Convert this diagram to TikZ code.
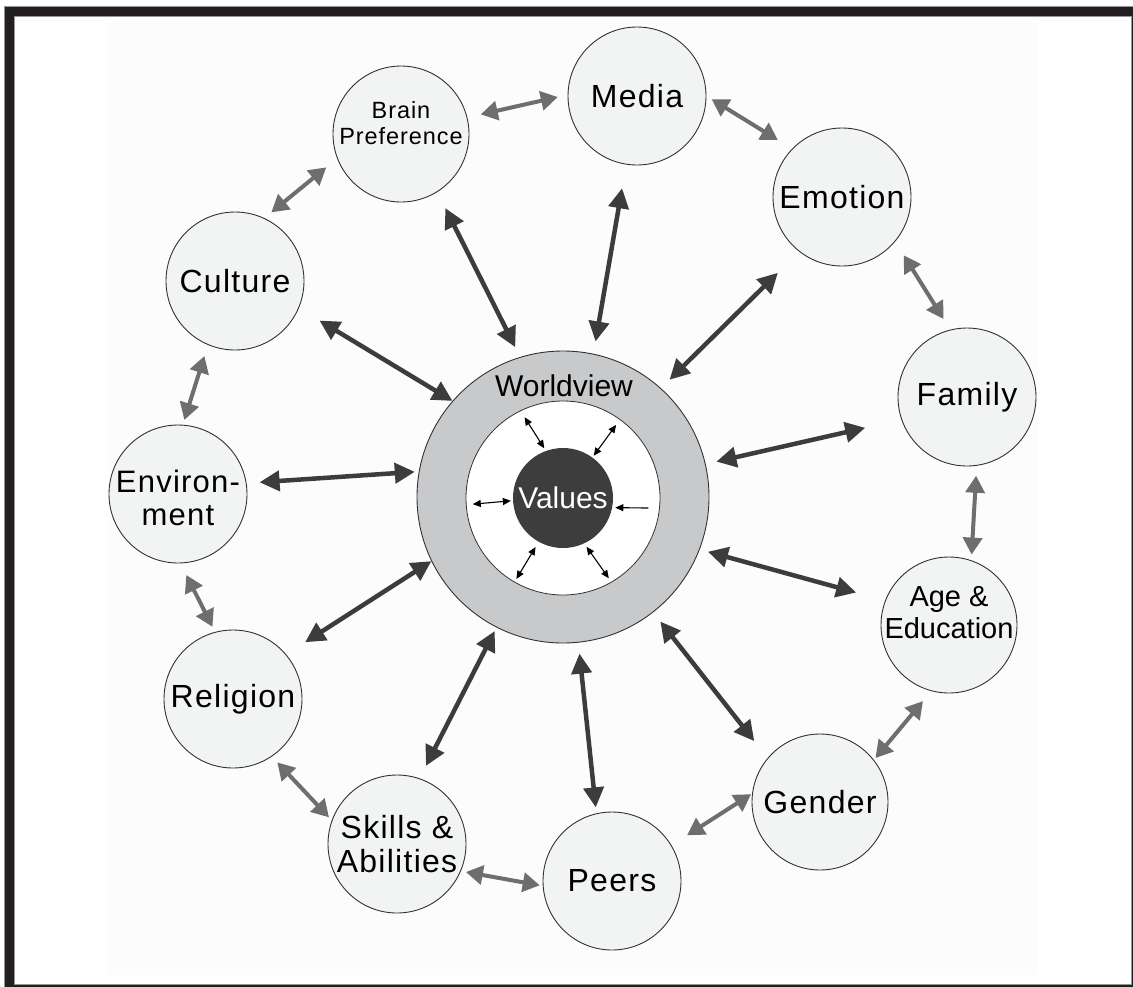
\documentclass[tikz,border=0pt]{standalone}
\usepackage{fontspec}
\setmainfont{Liberation Sans}
\newfontfamily\labelfont[LetterSpace=4]{Liberation Sans}
\usetikzlibrary{arrows.meta}

\definecolor{frameblack}{RGB}{35,31,32}
\definecolor{framegray}{RGB}{150,150,150}
\definecolor{panelgray}{RGB}{252,252,252}
\definecolor{bubble}{RGB}{242,243,243}
\definecolor{ring}{RGB}{200,201,203}
\definecolor{core}{RGB}{61,61,61}
\definecolor{spoke}{RGB}{60,60,60}
\definecolor{link}{RGB}{109,110,112}
\definecolor{outline}{RGB}{50,50,50}

\begin{document}
\begin{tikzpicture}[x=1pt,y=1pt,
  factor/.style={circle, draw=outline, line width=0.9pt, fill=bubble,
    minimum size=138pt, inner sep=0pt},
  lab/.style={align=center, inner sep=0pt, text=black,
    font=\labelfont\fontsize{32}{34}\selectfont},
  spokearrow/.style={draw=spoke, line width=4.5pt,
    {Triangle[length=20pt,width=20pt]}-{Triangle[length=20pt,width=20pt]}},
  linkarrow/.style={draw=link, line width=4pt,
    {Triangle[length=17pt,width=19pt]}-{Triangle[length=17pt,width=19pt]}},
  smallarrow/.style={draw=black, line width=1.1pt,
    {Triangle[length=8pt,width=7pt]}-{Triangle[length=8pt,width=7pt]}},
  smallsingle/.style={draw=black, line width=1.1pt,
    -{Triangle[length=8pt,width=7pt]}}
]
\useasboundingbox (0,0) rectangle (1133,-986);

% page, panel and frame
\fill[white] (0,0) rectangle (1133,-986);
\fill[panelgray] (108,-23) rectangle (1037,-975);
\draw[framegray, line width=10.5pt] (9.5,-11.25) rectangle (1135.75,-988.75);
\draw[frameblack, line width=8.5pt] (9.5,-11.25) rectangle (1135.75,-988.75);

% central rings
\node[circle, draw=outline, line width=0.9pt, fill=ring, minimum size=292pt, inner sep=0pt] (W) at (563,-497) {};
\node[circle, draw=outline, line width=0.8pt, fill=white, minimum size=194pt, inner sep=0pt] (I) at (563,-498) {};
\node[circle, fill=core, minimum size=100pt, inner sep=0pt] (V) at (563,-498) {};
\node[lab, font=\fontsize{30}{32}\selectfont] (Wtext) at (564,-386) {Worldview};
\node[lab, font=\fontsize{30}{32}\selectfont, text=white] (Vtext) at (563,-498) {Values};

% surrounding influences
\node[factor] (M) at (637,-96) {};
\node[factor, minimum size=136pt] (B) at (401,-134) {};
\node[factor] (E) at (842,-197) {};
\node[factor] (C) at (235,-281) {};
\node[factor] (F) at (967,-397) {};
\node[factor] (N) at (178,-494) {};
\node[factor, minimum size=136pt] (A) at (949,-625) {};
\node[factor] (R) at (233,-699) {};
\node[factor, minimum size=136pt] (G) at (820,-802) {};
\node[factor] (S) at (397,-844) {};
\node[factor] (P) at (612,-881) {};

\node[lab] (Mt) at (M) {Media};
\node[lab, font=\labelfont\fontsize{23.5}{26}\selectfont] (Bt) at ([yshift=11pt]B.center) {Brain\\Preference};
\node[lab] (Et) at (E) {Emotion};
\node[lab] (Ct) at (C) {Culture};
\node[lab] (Ft) at (F) {Family};
\node[lab, font=\labelfont\fontsize{31}{33}\selectfont] (Nt) at ([yshift=-4pt]N.center) {Environ-\\ment};
\node[lab, font=\fontsize{29}{32}\selectfont] (At) at ([yshift=12pt]A.center) {Age \&\\Education};
\node[lab] (Rt) at (R) {Religion};
\node[lab] (Gt) at (G) {Gender};
\node[lab] (St) at (S) {Skills \&\\Abilities};
\node[lab] (Pt) at (P) {Peers};

% spokes between each influence and the worldview
\draw[spokearrow, shorten <=24pt] (C.-23.5) -- (W.139.4);
\draw[spokearrow, shorten <=18pt, shorten >=11pt] (B.-58.3) -- (W.107.4);
\draw[spokearrow, shorten <=24pt, shorten >=12.5pt] (M.-99.9) -- (W.78);
\draw[spokearrow, shorten <=30pt, shorten >=12pt] (E.-128) -- (W.48.9);
\draw[spokearrow, shorten <=37pt, shorten >=11pt] (F.199.3) -- (W.13.6);
\draw[spokearrow, shorten <=13pt, shorten >=4pt] (N.9.8) -- (W.170.8);
\draw[spokearrow, shorten <=30pt, shorten >=8.5pt] (A.159.2) -- (W.-21.3);
\draw[spokearrow, shorten <=22.5pt] (R.40.1) -- (W.206);
\draw[spokearrow, shorten <=14pt, shorten >=4pt] (S.71.8) -- (W.-117.8);
\draw[spokearrow, shorten <=6pt, shorten >=11pt] (P.103.9) -- (W.-84.1);
\draw[spokearrow, shorten <=21.5pt, shorten >=11.6pt] (G.140.4) -- (W.-52.5);

% links between neighbouring influences
\draw[linkarrow, shorten <=13.7pt, shorten >=10pt] (B.14.9) -- (M.179.3);
\draw[linkarrow, shorten <=6pt, shorten >=16.6pt] (M.0.8) -- (E.136.4);
\draw[linkarrow, shorten <=16pt, shorten >=12.5pt] (E.-40.2) -- (F.104.2);
\draw[linkarrow, shorten <=10pt, shorten >=5.7pt] (F.-82) -- (A.71.8);
\draw[linkarrow, shorten <=13pt, shorten >=2.4pt] (A.-105.8) -- (G.38.7);
\draw[linkarrow, shorten <=1pt, shorten >=18.5pt] (G.173.9) -- (P.31);
\draw[linkarrow, shorten <=3pt, shorten >=5pt] (P.184) -- (S.-23.1);
\draw[linkarrow, shorten <=4pt, shorten >=8pt] (S.160.8) -- (R.-56.1);
\draw[linkarrow, shorten <=5.7pt, shorten >=13pt] (R.105.5) -- (N.-88.6);
\draw[linkarrow, shorten <=5pt, shorten >=11.6pt] (N.86.9) -- (C.-113.4);
\draw[linkarrow, shorten <=9pt, shorten >=14pt] (C.65.7) -- (B.-159.4);

% small arrows between the values core and the worldview ring
\draw[smallarrow, shorten <=3pt, shorten >=8pt] (V.110) -- (I.116);
\draw[smallarrow, shorten <=2pt, shorten >=7pt] (V.54) -- (I.54);
\draw[smallarrow, shorten <=2pt, shorten >=7pt] (V.183) -- (I.184);
\draw[smallsingle, shorten <=11.5pt, shorten >=3pt] (I.-6) -- (V.-11.7);
\draw[smallarrow, shorten <=6pt, shorten >=4pt] (V.-119) -- (I.-120.4);
\draw[smallarrow, shorten <=4pt, shorten >=5pt] (V.-65) -- (I.-60.6);
\end{tikzpicture}
\end{document}
